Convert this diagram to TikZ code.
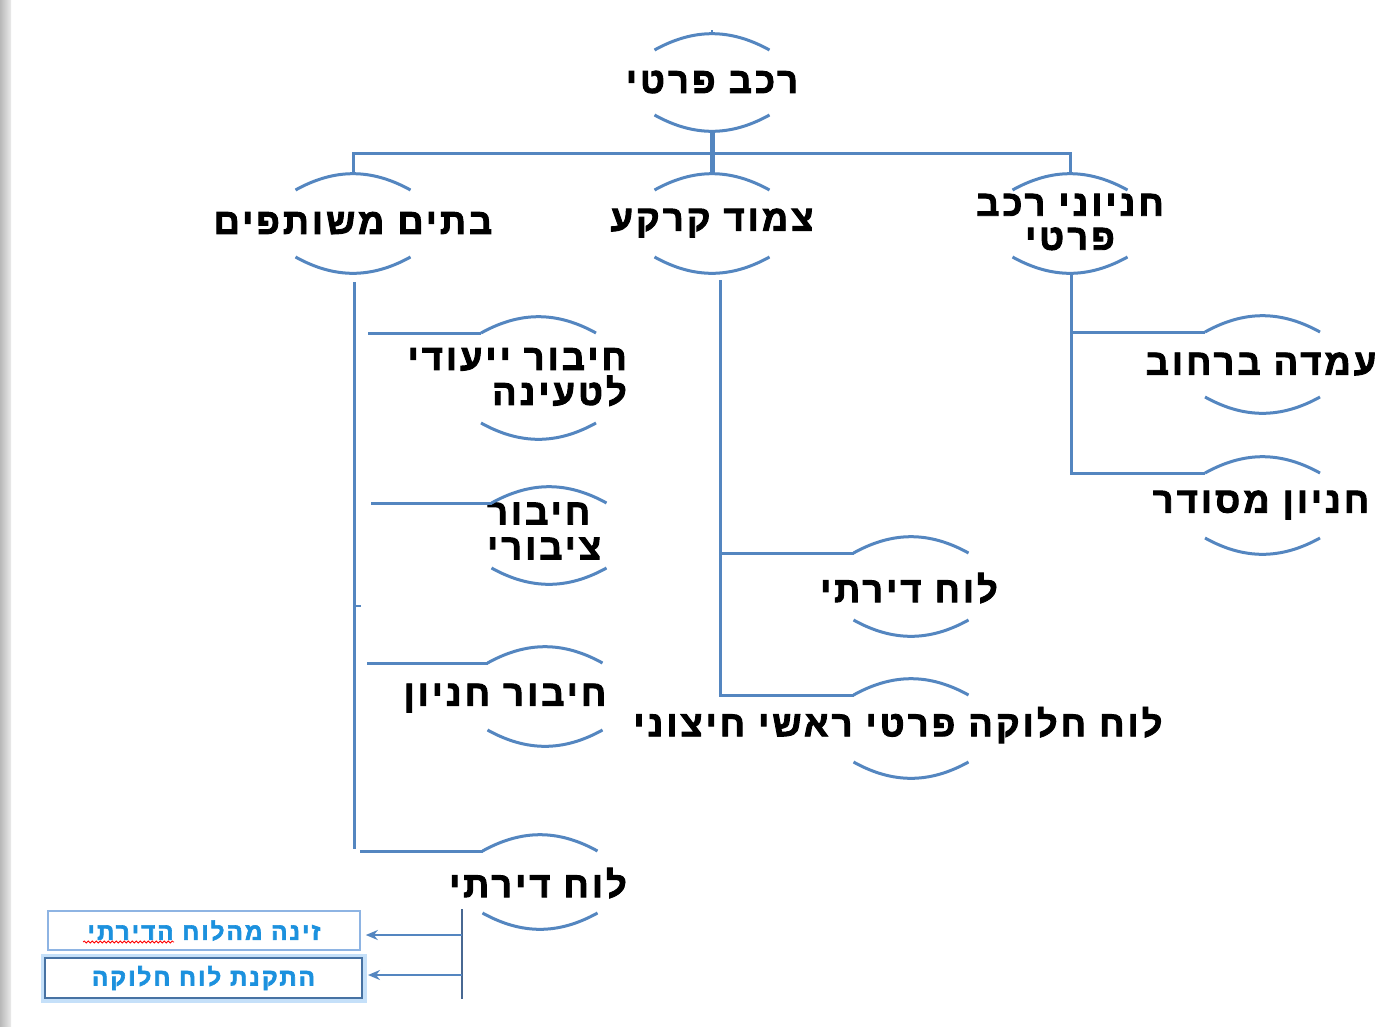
\documentclass[tikz,border=0pt]{standalone}
\usepackage{fontspec}
\usetikzlibrary{arrows.meta,decorations.pathmorphing}
\TeXXeTstate=1
\newfontfamily\heb[Script=Hebrew,LetterSpace=9,BoldFeatures={FakeBold=2.6}]{Liberation Sans}
\definecolor{lnc}{RGB}{84,134,192}
\definecolor{dkc}{RGB}{72,104,146}
\definecolor{boxtxt}{RGB}{28,145,222}
\definecolor{boxline}{RGB}{142,180,227}
\definecolor{glow}{RGB}{150,200,245}
\newcommand\RR[1]{\beginR #1\endR}
\newcommand\ring[4]{%
  \draw[ln] ({#1-57.5},#2) coordinate (#4-tl) to[bend left=29] ({#1+57.5},#2);
  \draw[ln] ({#1-57.5},#3) to[bend right=29] ({#1+57.5},#3);
  \coordinate (#4-top) at (#1,{#2-16});
  \coordinate (#4-bot) at (#1,{#3+16});
}
\begin{document}
\begin{tikzpicture}[x=1pt,y=-1pt,
  ln/.style={draw=lnc,line width=3pt},
  dk/.style={draw=dkc,line width=2.2pt},
  arr/.style={draw=lnc,line width=2.6pt,-{Stealth[length=12pt,width=10pt]},shorten >=5pt},
  lbl/.style={font=\heb\bfseries\fontsize{36}{35}\selectfont,inner sep=0pt},
  btxt/.style={font=\heb\bfseries\fontsize{24}{24}\selectfont,text=boxtxt}]
\useasboundingbox (0,0) rectangle (1396,1026);
\fill[white] (0,0) rectangle (1396,1026);
\shade[left color=black!28,right color=black!8] (0,0) rectangle (11,1026);

% top node
\node[lbl] (top) at (712,82) {\RR{רכב פרטי}};
\ring{712}{50}{115}{top}
\coordinate (tick) at (712,30);
\draw[ln,line width=2pt] (tick) -- (top-top);
\coordinate (hub) at (712,153);

% level 2
\node[lbl] (bm) at (353,223) {\RR{בתים משותפים}};
\ring{353}{190}{257}{bm}
\node[lbl] (zk) at (712,223) {\RR{צמוד קרקע}};
\ring{712}{190}{257}{zk}
\node[lbl,align=center] (ch) at (1070,222) {\RR{חניוני רכב}\\[-1pt]\RR{פרטי}};
\ring{1070}{190}{257}{ch}

\draw[ln,line width=5pt] (top-bot) -- (zk-top);
\draw[ln] (hub) -| (bm-top);
\draw[ln] (hub) -| (ch-top);

% left branch
\node[lbl,align=right,anchor=east] (a1) at (627,377) {\RR{חיבור ייעודי}\\\RR{לטעינה}};
\ring{538.5}{333}{423}{a1}
\node[lbl,align=left,anchor=west] (a2) at (487,531) {\RR{חיבור}\\\RR{ציבורי}};
\ring{549}{503}{568}{a2}
\node[lbl] (a3) at (505,698) {\RR{חיבור חניון}};
\ring{545}{663}{730}{a3}
\node[lbl] (a4) at (538,883) {\RR{לוח דירתי}};
\ring{540}{851}{913}{a4}

\coordinate (bmS) at (354,282);
\coordinate (bmE) at (354,849);
\draw[ln] (bmS) -- (bmE);
\coordinate (nub) at (361,606);
\draw[ln,line width=2pt] (bmS |- nub) -- (nub);
\coordinate (a1s) at (368,333);
\coordinate (a2s) at (371,503);
\coordinate (a3s) at (367,663);
\coordinate (a4s) at (360,851);
\draw[ln] (a1s) -- (a1-tl);
\draw[ln] (a2s) -- (a2-tl);
\draw[ln] (a3s) -- (a3-tl);
\draw[ln] (a4s) -- (a4-tl);

% middle branch
\node[lbl] (b1) at (909,588) {\RR{לוח דירתי}};
\ring{911}{553}{620}{b1}
\node[lbl] (b2) at (898,725) {\RR{לוח חלוקה פרטי ראשי חיצוני}};
\ring{911}{695}{762}{b2}
\coordinate (zkS) at (720,280);
\draw[ln] (zkS) |- (b2-tl);
\draw[ln] (zkS |- b1-tl) -- (b1-tl);

% right branch
\node[lbl] (c1) at (1261,364) {\RR{עמדה ברחוב}};
\ring{1262.5}{332}{397}{c1}
\node[lbl] (c2) at (1261,505) {\RR{חניון מסודר}};
\ring{1262.5}{473}{538}{c2}
\coordinate (chS) at (1071,273);
\draw[ln] (chS) |- (c2-tl);
\draw[ln] (chS |- c1-tl) -- (c1-tl);

% bottom left boxes
\coordinate (dS) at (462,909);
\coordinate (dE) at (462,999);
\draw[dk] (dS) -- (dE);
\draw[glow,line width=9pt,opacity=0.55] (45,958) rectangle (362,998);
\node[draw=boxline,line width=1.6pt,fill=white,minimum width=312pt,minimum height=39pt,inner sep=0pt] (x1) at (204,930.5) {};
\node[btxt] at (x1) {\RR{זינה מהלוח הדירתי}};
\node[draw=lnc!85!black,line width=2pt,fill=white,minimum width=317pt,minimum height=40pt,inner sep=0pt] (x2) at (203.5,978) {};
\node[btxt] at (x2) {\RR{התקנת לוח חלוקה}};
\draw[red,line width=0.8pt,decorate,decoration={snake,amplitude=1pt,segment length=4pt}] (83,942) -- (174,942);
\coordinate (ar1) at (462,935);
\coordinate (ar2) at (462,975);
\draw[arr] (ar1) -- (x1.east |- ar1);
\draw[arr] (ar2) -- (x2.east |- ar2);
\end{tikzpicture}
\end{document}
